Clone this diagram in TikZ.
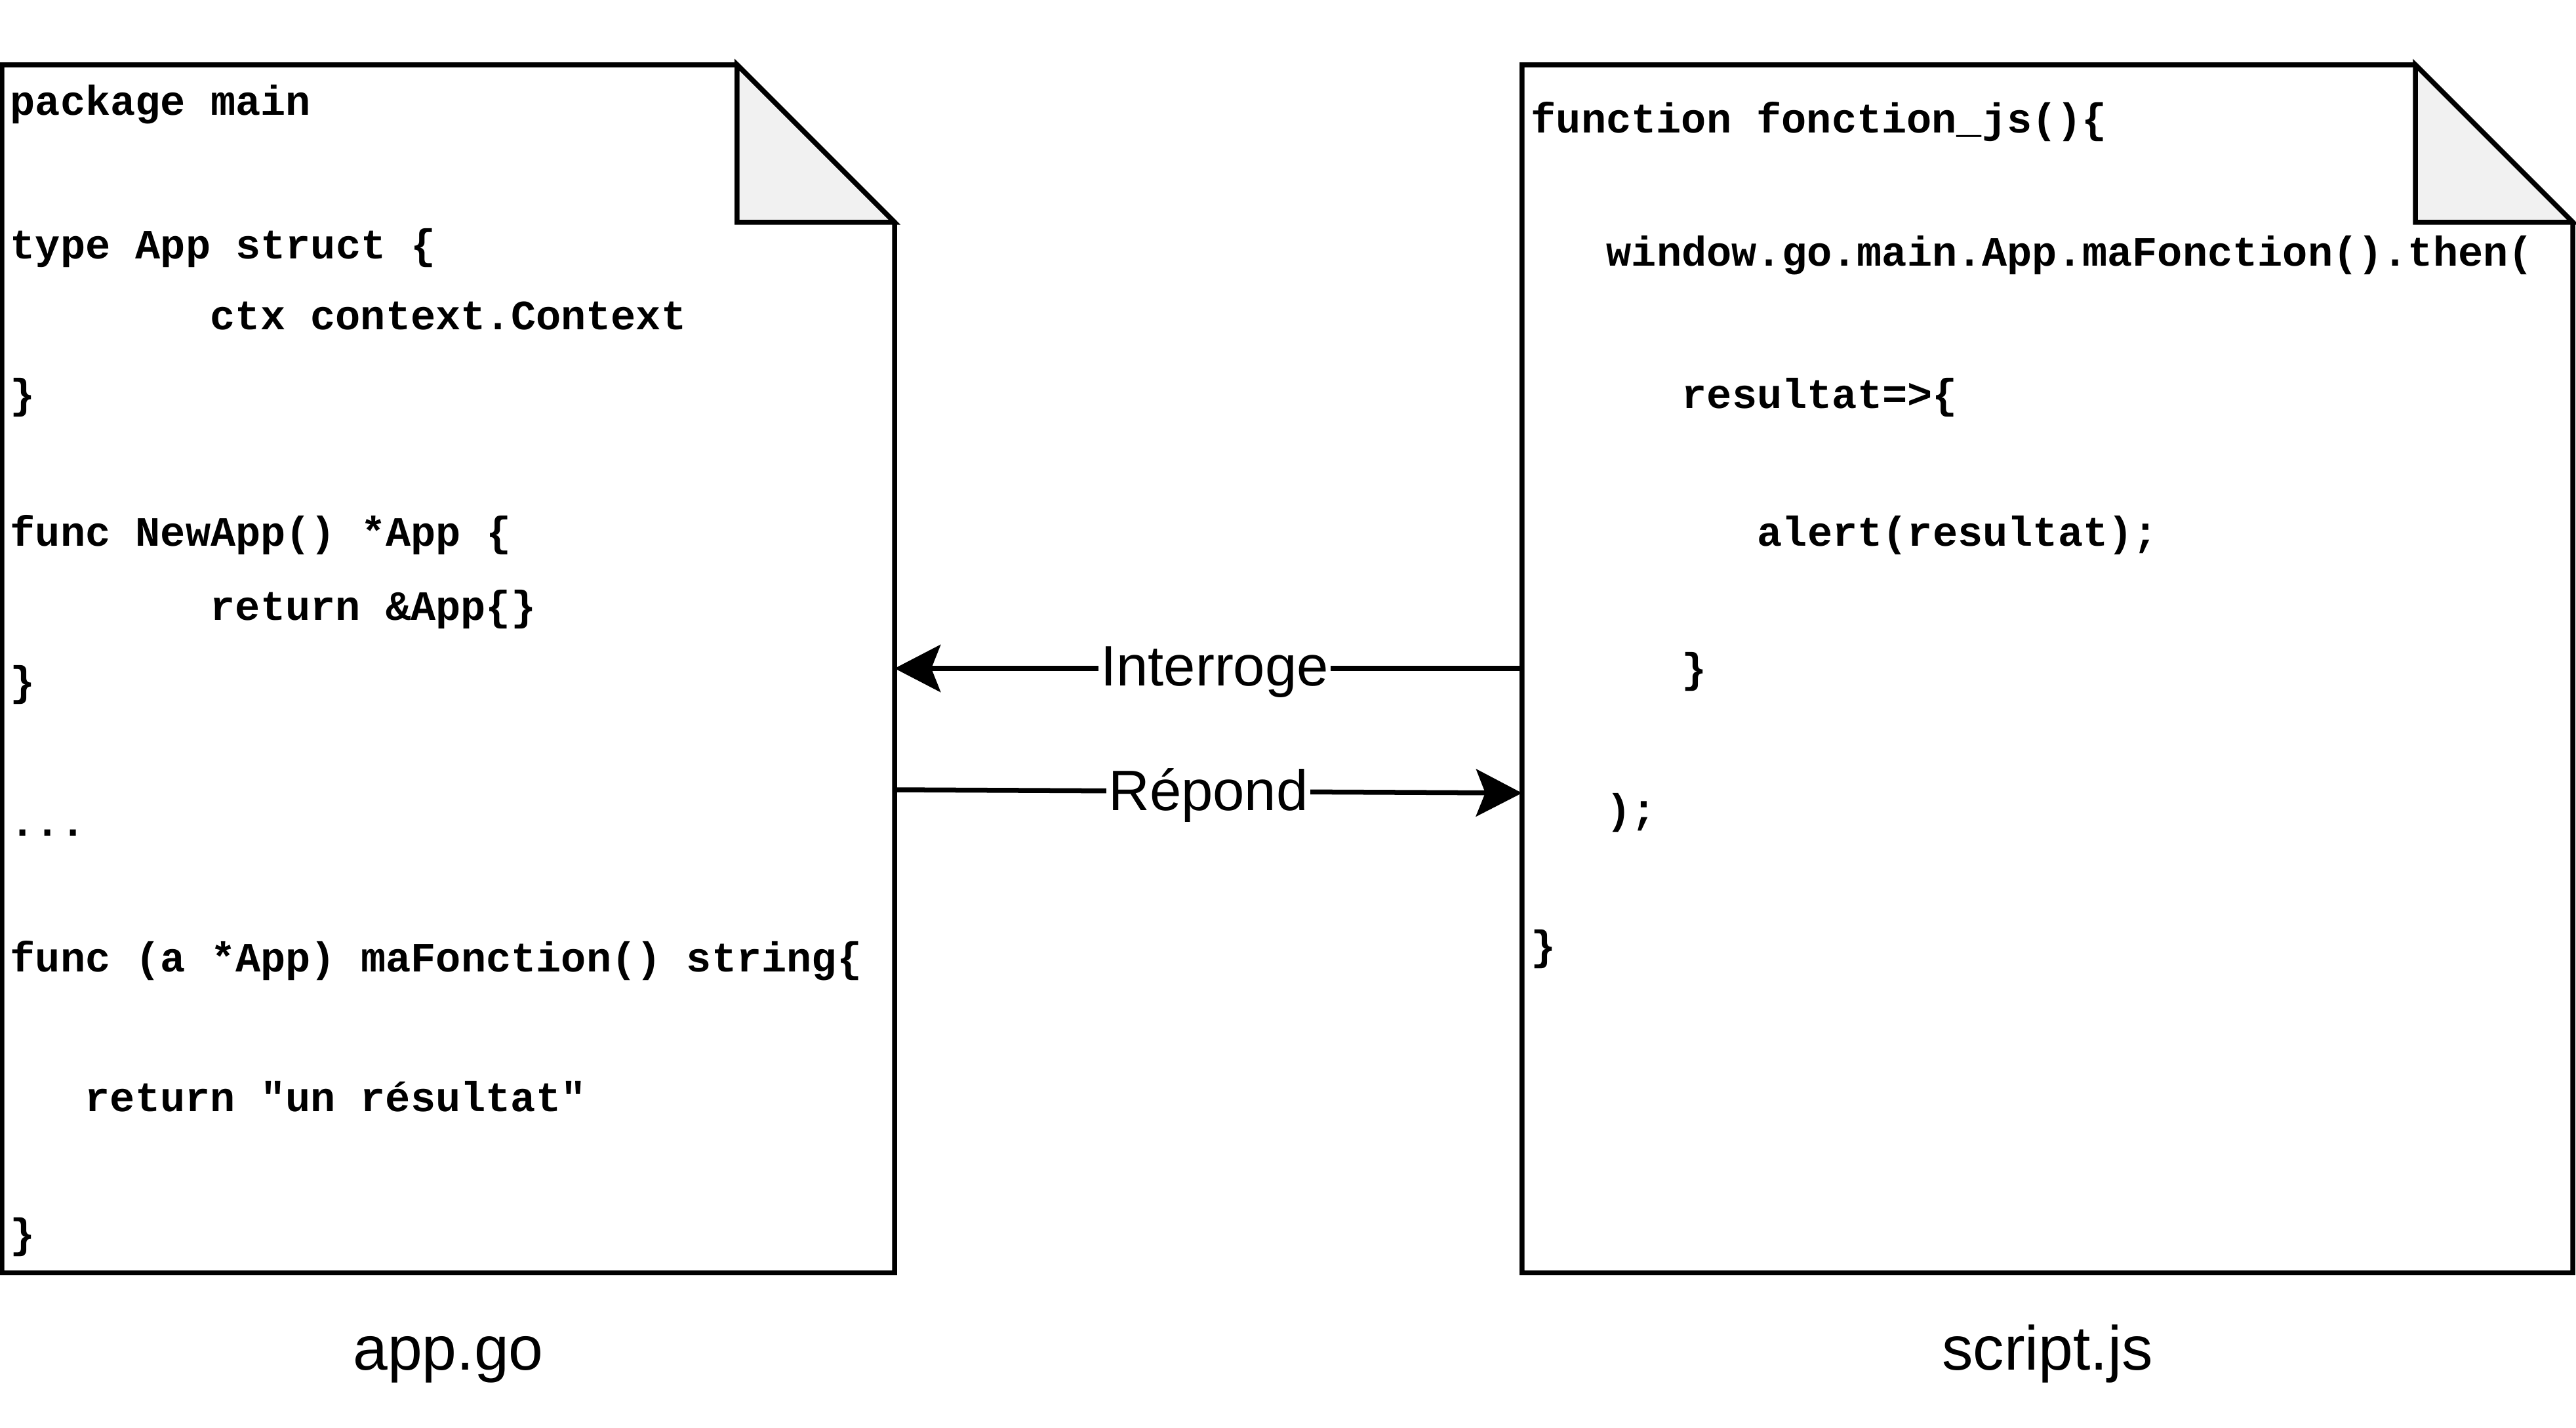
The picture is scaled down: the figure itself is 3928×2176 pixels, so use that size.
\documentclass[tikz,border=0pt]{standalone}
\usepackage{fontspec}
\setmainfont{Liberation Sans}
\newfontfamily\codefont{Liberation Mono}
\usepackage{tikz}
\usetikzlibrary{positioning}
\usetikzlibrary{backgrounds}
\usetikzlibrary{arrows.meta}

\definecolor{foldgray}{HTML}{F1F1F1}

\tikzset{
	code/.style = {anchor=base west, inner sep=0pt, font=\codefont\bfseries\fontsize{18.1}{20}\selectfont},
	page/.style = {rectangle, inner sep=0pt, minimum height=18.39cm},
	pageline/.style = {draw=black, line width=0.075cm, fill=white},
	link/.style = {draw=black, line width=0.075cm, -{Stealth[length=0.7cm, width=0.72cm, inset=0.14cm]}},
	linklabel/.style = {fill=white, inner sep=1pt, yshift=-0.06cm, font=\fontsize{24.7}{28}\selectfont},
	filename/.style = {anchor=base, inner sep=0pt, font=\fontsize{27}{30}\selectfont},
}

\begin{document}
\frenchspacing
\begin{tikzpicture}[x=0.01cm, y=-0.01cm]
		\useasboundingbox (0,0) rectangle (3928,2176);

		\node[page, minimum width=13.59cm] at (683.5,1019.5) (godoc) {};
		\node[page, minimum width=16cm] at (3122,1019.5) (jsdoc) {};

		\begin{scope}[on background layer]
			\foreach \doc in {godoc,jsdoc}{
				\draw[pageline] (\doc.north west) -- ([xshift=-2.4cm]\doc.north east) -- ([yshift=-2.4cm]\doc.north east) -- (\doc.south east) -- (\doc.south west) -- cycle;
				\draw[pageline, fill=foldgray] ([xshift=-2.4cm]\doc.north east) -- ([xshift=-2.4cm,yshift=-2.4cm]\doc.north east) -- ([yshift=-2.4cm]\doc.north east) -- cycle;
			}
		\end{scope}

		\node[code] at (15,176) (go1) {package main};
		\node[code] at (15,395) (go2) {type App struct \{};
		\node[code] at (320,502) (go3) {ctx context.Context};
		\node[code] at (15,622) (go4) {\}};
		\node[code] at (15,832) (go5) {func NewApp() *App \{};
		\node[code] at (320,945) (go6) {return \&App\{\}};
		\node[code] at (15,1060) (go7) {\}};
		\node[code] at (15,1274) (go8) {...};
		\node[code] at (15,1481) (go9) {func (a *App) maFonction() string\{};
		\node[code] at (129,1694) (go10) {return "un résultat"};
		\node[code] at (15,1902) (go11) {\}};

		\node[code] at (2334,203) (js1) {function fonction\_js()\{};
		\node[code] at (2449,406) (js2) {window.go.main.App.maFonction().then(};
		\node[code] at (2564,622) (js3) {resultat=>\{};
		\node[code] at (2679,832) (js4) {alert(resultat);};
		\node[code] at (2564,1040) (js5) {\}};
		\node[code] at (2449,1255) (js6) {);};
		\node[code] at (2334,1463) (js7) {\}};

		\coordinate (ask) at (0,1019);
		\coordinate (answer) at (0,1204);
		\coordinate (answerend) at (0,1209);

		\draw[link] (jsdoc.west |- ask) -- node[linklabel, pos=0.49] (asklbl) {Interroge} (godoc.east |- ask);
		\draw[link] (godoc.east |- answer) -- node[linklabel] (answerlbl) {Répond} (jsdoc.west |- answerend);

		\node[filename] at (godoc.south |- 0,2088) (gofile) {app.go};
		\node[filename] at (jsdoc.south |- 0,2088) (jsfile) {script.js};
	\end{tikzpicture}
\end{document}
